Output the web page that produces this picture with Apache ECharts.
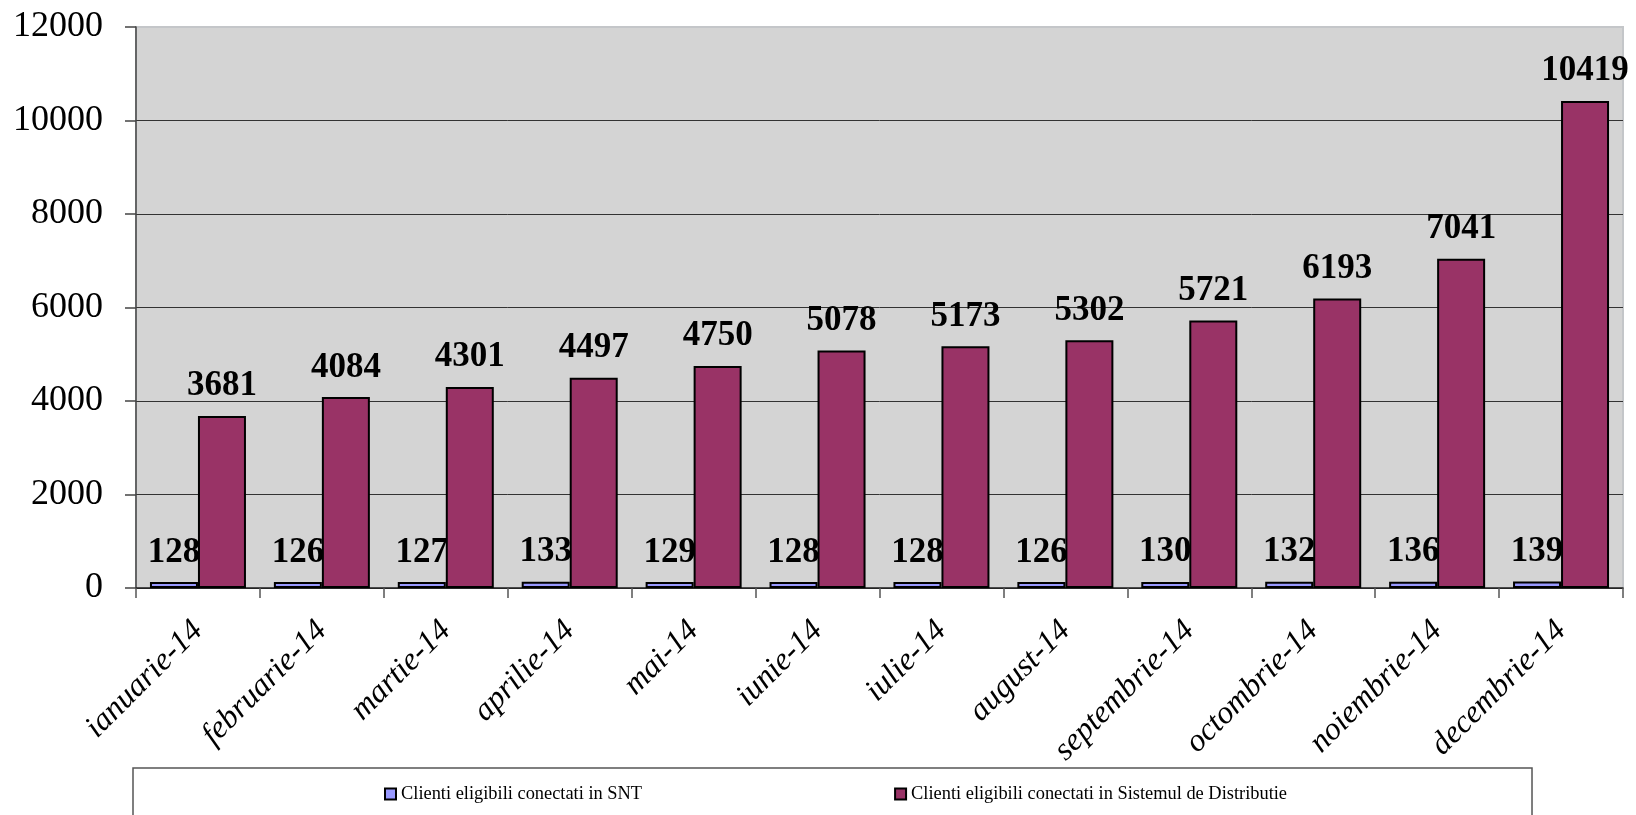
<!DOCTYPE html>
<html>
<head>
<meta charset="utf-8">
<script src="https://cdn.jsdelivr.net/npm/echarts@6/dist/echarts.min.js"></script>
<style>
  html, body { margin: 0; padding: 0; background: #fff; }
  #chart { width: 1636px; height: 815px; }
</style>
</head>
<body>
<div id="chart"></div>
<script>
// date extrase din grafic
const luni = ['ianuarie-14', 'februarie-14', 'martie-14', 'aprilie-14', 'mai-14', 'iunie-14',
  'iulie-14', 'august-14', 'septembrie-14', 'octombrie-14', 'noiembrie-14', 'decembrie-14'];
const clientiSNT = [128, 126, 127, 133, 129, 128, 128, 126, 130, 132, 136, 139];
const clientiSD = [3681, 4084, 4301, 4497, 4750, 5078, 5173, 5302, 5721, 6193, 7041, 10419];
const numeSerii = ['Clienti eligibili conectati in SNT', 'Clienti eligibili conectati in Sistemul de Distributie'];

const font = '"Times New Roman", "Liberation Serif", serif';

const chart = echarts.init(document.getElementById('chart'));

const labelStyle = {
  show: true,
  position: 'top',
  distance: 12,
  fontFamily: font,
  fontSize: 35,
  fontWeight: 'bold',
  color: '#000'
};

const option = {
  backgroundColor: '#fff',
  animation: false,
  grid: {
    left: 136,
    right: 13,
    top: 27,
    bottom: 227,
    show: true,
    backgroundColor: '#d4d4d4',
    borderColor: '#c4c6c9',
    borderWidth: 2
  },
  legend: {
    data: numeSerii,
    icon: 'rect',
    left: 133,
    top: 768,
    padding: [17, 245, 40, 251],
    itemGap: 252,
    itemWidth: 11,
    itemHeight: 11,
    itemStyle: { borderColor: '#000', borderWidth: 2 },
    borderColor: '#555',
    borderWidth: 1.5,
    textStyle: { fontFamily: font, fontSize: 18.4, color: '#000' }
  },
  xAxis: {
    type: 'category',
    data: luni,
    axisLine: { lineStyle: { color: '#222', width: 1.5 } },
    axisTick: { show: true, length: 10, lineStyle: { color: '#555', width: 1.5 } },
    axisLabel: {
      rotate: 45,
      margin: 38,
      interval: 0,
      fontFamily: font,
      fontStyle: 'italic',
      fontSize: 32,
      color: '#000'
    }
  },
  yAxis: {
    type: 'value',
    min: 0,
    max: 12000,
    interval: 2000,
    axisLine: { show: true, lineStyle: { color: '#444', width: 1.5 } },
    axisTick: { show: true, length: 11, lineStyle: { color: '#444', width: 1.5 } },
    axisLabel: {
      margin: 33,
      fontFamily: font,
      fontSize: 36,
      color: '#000',
      formatter: v => String(v)
    },
    splitLine: {
      lineStyle: {
        color: ['#333', '#333', '#333', '#333', '#333', '#333', '#c4c6c9'],
        width: 1
      }
    }
  },
  series: [
    {
      name: numeSerii[0],
      type: 'bar',
      data: clientiSNT,
      barWidth: 48,
      barGap: 0,
      z: 2,
      itemStyle: { color: '#9999ff', borderColor: '#000', borderWidth: 2 },
      label: labelStyle
    },
    {
      name: numeSerii[1],
      type: 'bar',
      data: clientiSD,
      barWidth: 48,
      barGap: 0,
      z: 3,
      itemStyle: { color: '#993366', borderColor: '#000', borderWidth: 2 },
      label: labelStyle
    }
  ]
};

chart.setOption(option);
</script>
</body>
</html>
